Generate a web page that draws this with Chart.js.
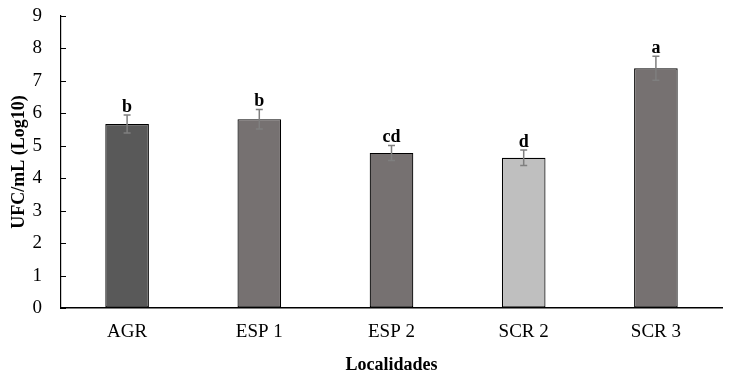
<!DOCTYPE html>
<html>
<head>
<meta charset="utf-8">
<script src="https://cdn.jsdelivr.net/npm/chart.js@4"></script>
<style>
  html, body { margin: 0; padding: 0; background: #fff; }
  #wrap { width: 732px; height: 380px; }
</style>
</head>
<body>
<div id="wrap"><canvas id="chart" width="732" height="380"></canvas></div>
<script>
const localidades = ['AGR', 'ESP 1', 'ESP 2', 'SCR 2', 'SCR 3'];
const ufcLog = [5.67, 5.82, 4.78, 4.63, 7.39];
const errores = [0.28, 0.30, 0.23, 0.24, 0.37];
const letras = ['b', 'b', 'cd', 'd', 'a'];
const colores = ['#595959', '#767171', '#767171', '#bfbfbf', '#767171'];

const serif = '"Liberation Serif", "DejaVu Serif", serif';

// error bars, significance letters and inward y ticks
const errorBarPlugin = {
    id: 'errorBars',
    afterDatasetsDraw(chart) {
        const ctx = chart.ctx;
        const yScale = chart.scales.y;
        const meta = chart.getDatasetMeta(0);
        ctx.save();

        ctx.strokeStyle = '#000';
        ctx.lineWidth = 1;
        ctx.beginPath();
        yScale.ticks.forEach(t => {
            const py = Math.round(yScale.getPixelForValue(t.value)) + 0.5;
            ctx.moveTo(yScale.right, py);
            ctx.lineTo(yScale.right + 5, py);
        });
        ctx.stroke();

        meta.data.forEach((bar, i) => {
            const x = bar.x;
            const yTop = yScale.getPixelForValue(ufcLog[i] + errores[i]);
            const yBot = yScale.getPixelForValue(ufcLog[i] - errores[i]);
            ctx.strokeStyle = '#7f7f7f';
            ctx.lineWidth = 1.5;
            ctx.beginPath();
            ctx.moveTo(x, yTop); ctx.lineTo(x, yBot);
            ctx.moveTo(x - 3.5, yTop); ctx.lineTo(x + 3.5, yTop);
            ctx.moveTo(x - 3.5, yBot); ctx.lineTo(x + 3.5, yBot);
            ctx.stroke();

            ctx.fillStyle = '#000';
            ctx.font = 'bold 18px ' + serif;
            ctx.textAlign = 'center';
            ctx.textBaseline = 'alphabetic';
            ctx.fillText(letras[i], x, yTop - 3);
        });
        ctx.restore();
    }
};

new Chart(document.getElementById('chart'), {
    type: 'bar',
    data: {
        labels: localidades,
        datasets: [{
            data: ufcLog,
            backgroundColor: colores,
            borderColor: '#000',
            borderWidth: 1.2,
            borderSkipped: false,
            barPercentage: 0.33,
            categoryPercentage: 1.0
        }]
    },
    options: {
        responsive: false,
        animation: false,
        layout: { padding: { top: 0, right: 10, left: 0, bottom: 0 } },
        plugins: {
            legend: { display: false },
            tooltip: { enabled: false }
        },
        scales: {
            x: {
                grid: { display: false },
                border: { display: true, color: '#000', width: 1.5 },
                ticks: { color: '#000', font: { family: serif, size: 19 }, padding: 5 },
                title: {
                    display: true,
                    text: 'Localidades',
                    color: '#000',
                    font: { family: serif, size: 18, weight: 'bold' },
                    padding: { top: 17 }
                },
                afterFit(scale) { scale.height = 72; }
            },
            y: {
                min: 0,
                max: 9,
                ticks: { stepSize: 1, color: '#000', font: { family: serif, size: 19 }, padding: 19 },
                grid: { display: true, drawOnChartArea: false, drawTicks: false, color: '#000' },
                border: { display: true, color: '#000', width: 1.2 },
                title: {
                    display: true,
                    text: 'UFC/mL (Log10)',
                    color: '#000',
                    font: { family: serif, size: 18, weight: 'bold' },
                    padding: { top: 9, bottom: 0 }
                },
                afterFit(scale) {
                    scale.width = 61;
                    scale.paddingTop = 16;
                    scale.paddingBottom = 0;
                }
            }
        }
    },
    plugins: [errorBarPlugin]
});
</script>
</body>
</html>
